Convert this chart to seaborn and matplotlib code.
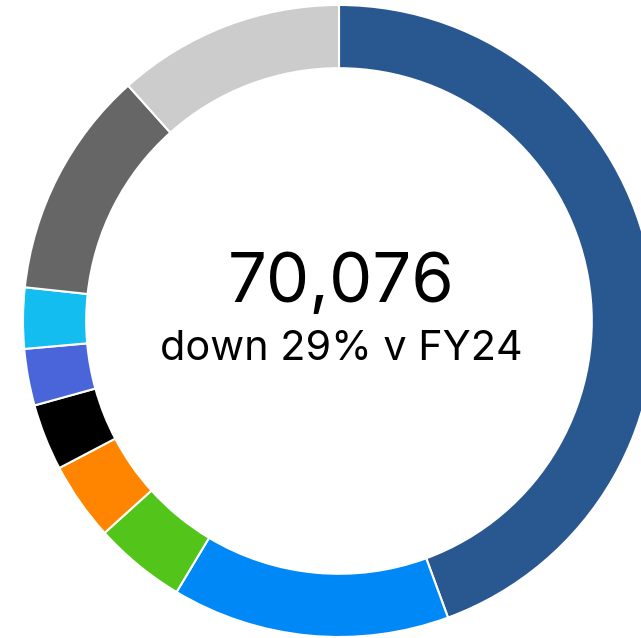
import matplotlib
matplotlib.use("Agg")
import matplotlib.pyplot as plt
import seaborn as sns

sns.set_theme(style="white")
plt.rcParams['font.family'] = ['Inter', 'DejaVu Sans']

# segments clockwise from 12 o'clock (values estimated from arc angles)
categories = ["Segment 1", "Segment 2", "Segment 3", "Segment 4", "Segment 5",
              "Segment 6", "Segment 7", "Segment 8", "Segment 9"]
values = [31110, 9950, 3300, 2800, 2380, 2030, 2180, 8180, 8146]
colors = ["#29578f", "#0088f7", "#52c41a", "#ff8500", "#000000",
          "#4965d9", "#13bdf0", "#666666", "#cccccc"]
total_label = "70,076"
change_label = "down 29% v FY24"

fig = plt.figure(figsize=(6.41, 6.38), dpi=100)
ax = fig.add_axes([0, 0, 1, 1])

ax.pie(values, labels=None, colors=colors, startangle=90, counterclock=False,
       radius=1.0, wedgeprops=dict(width=0.2, edgecolor="white", linewidth=1.5))

# ring is cropped on the right/bottom like the reference
ax.set_aspect("auto")
ax.set_xlim(-1.0728, 0.9557)
ax.set_ylim(-1.0032, 1.0158)
ax.axis("off")

ax.text(0.007, 0.060, total_label, ha="center", va="baseline", fontsize=49.5, color="black")
ax.text(0.007, -0.123, change_label, ha="center", va="baseline", fontsize=29.8, color="black")

fig.savefig("out.png", dpi=100, facecolor="white")
